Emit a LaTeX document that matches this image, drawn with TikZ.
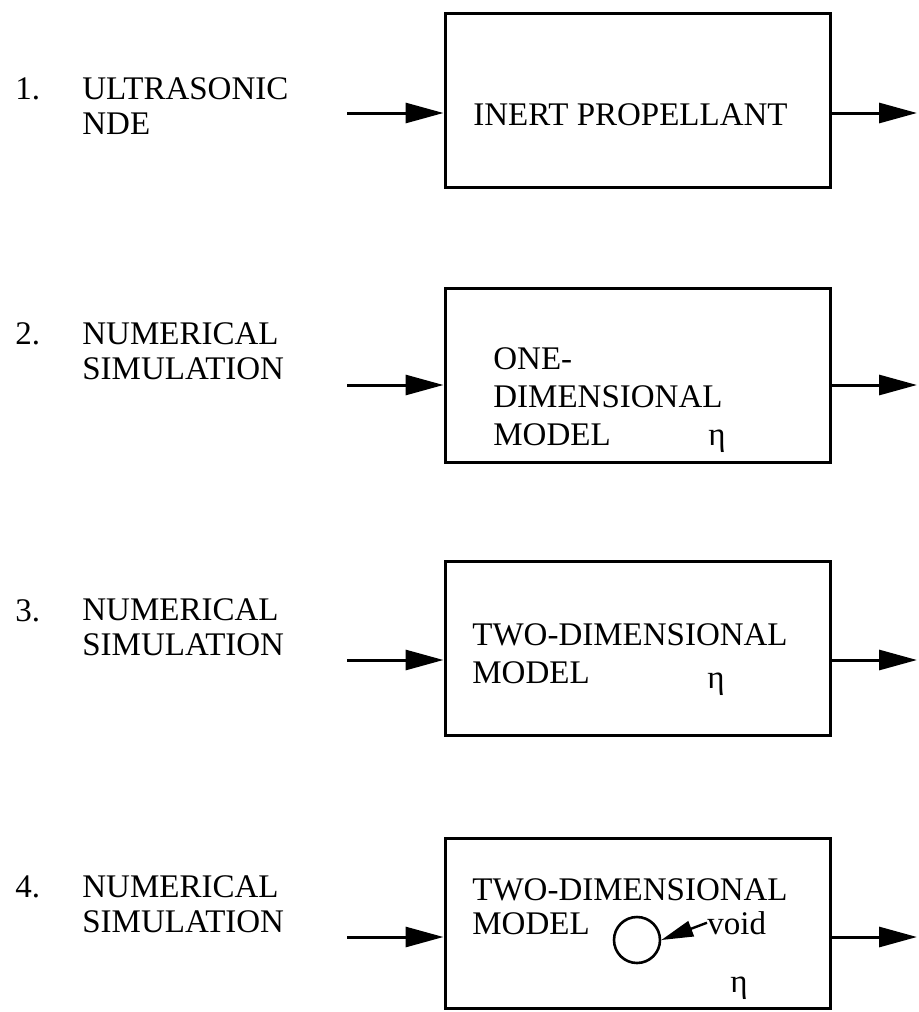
\documentclass[tikz,border=0pt]{standalone}
\usepackage{fontspec}
\setmainfont{Liberation Serif}
\usetikzlibrary{arrows.meta}
\tikzset{
  every node/.append style={font=\fontsize{16.5}{17.5}\selectfont},
  blk/.style={draw, line width=1.5pt, minimum width=192.5pt, minimum height=87pt, inner sep=0pt},
  lbl/.style={anchor=base west, align=left, inner sep=0pt},
  txt/.style={anchor=base west, inner sep=0pt},
  flow/.style={-{Triangle[length=19pt,width=10pt]}, line width=1.5pt},
  pointer/.style={-{Triangle[length=16pt,width=8pt]}, line width=1.2pt},
}

\begin{document}
\begin{tikzpicture}[x=0.5pt, y=-0.5pt]
  \useasboundingbox (0,0) rectangle (918,1012);
  % step 1
  \node[blk] (b1) at (637.5,100.5) {};
  \node[txt] (t1) at (473,125) {INERT PROPELLANT};
  \node[txt] (n1) at (15,99) {1.};
  \node[lbl] (l1) at (82,134) {ULTRASONIC\\NDE};
  \coordinate (in1) at (347,113);
  \coordinate (out1) at (917,113);
  \draw[flow] (in1) -- (in1 -| b1.west);
  \draw[flow] (b1.east |- out1) -- (out1);
  % step 2
  \node[blk] (b2) at (637.5,375) {};
  \node[txt] (t2a) at (493,369) {ONE-};
  \node[txt] (t2b) at (493,407) {DIMENSIONAL};
  \node[txt] (t2c) at (493,445) {MODEL};
  \node[txt] (eta2) at (708,445) {η};
  \node[txt] (n2) at (15,344) {2.};
  \node[lbl] (l2) at (82,379) {NUMERICAL\\SIMULATION};
  \coordinate (in2) at (347,385);
  \coordinate (out2) at (917,385);
  \draw[flow] (in2) -- (in2 -| b2.west);
  \draw[flow] (b2.east |- out2) -- (out2);
  % step 3
  \node[blk] (b3) at (637.5,648.5) {};
  \node[txt] (t3a) at (472,645) {TWO-DIMENSIONAL};
  \node[txt] (t3b) at (472,683) {MODEL};
  \node[txt] (eta3) at (707,688) {η};
  \node[txt] (n3) at (15,621) {3.};
  \node[lbl] (l3) at (82,655) {NUMERICAL\\SIMULATION};
  \coordinate (in3) at (347,660);
  \coordinate (out3) at (917,660);
  \draw[flow] (in3) -- (in3 -| b3.west);
  \draw[flow] (b3.east |- out3) -- (out3);
  % step 4
  \node[blk, minimum height=85pt] (b4) at (637.5,923) {};
  \node[txt] (t4a) at (472,900) {TWO-DIMENSIONAL};
  \node[txt] (t4b) at (472,934) {MODEL};
  \node[draw, circle, line width=1.3pt, minimum size=23pt, inner sep=0pt] (hole) at (637,940) {};
  \node[txt] (void) at (707,934) {void};
  \draw[pointer] (void.west) -- (hole.east);
  \node[txt] (eta4) at (730,992) {η};
  \node[txt] (n4) at (15,897) {4.};
  \node[lbl] (l4) at (82,932) {NUMERICAL\\SIMULATION};
  \coordinate (in4) at (347,937);
  \coordinate (out4) at (917,937);
  \draw[flow] (in4) -- (in4 -| b4.west);
  \draw[flow] (b4.east |- out4) -- (out4);
\end{tikzpicture}
\end{document}
